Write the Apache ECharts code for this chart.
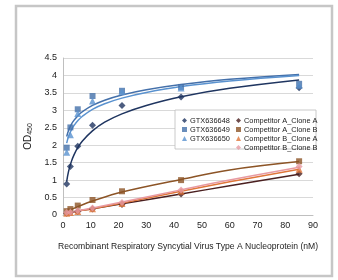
<!DOCTYPE html>
<html>
<head>
<meta charset="utf-8">
<script src="https://cdn.jsdelivr.net/npm/echarts@6/dist/echarts.min.js"></script>
<style>
  html, body { margin: 0; padding: 0; background: #fff; }
  #chart { width: 338px; height: 280px; }
</style>
</head>
<body>
<div id="chart"></div>
<script>
// concentrations (nM)
const conc = [1.33, 2.66, 5.31, 10.63, 21.25, 42.5, 85];

// measured OD450
const gtx648 = [0.89, 1.39, 1.97, 2.57, 3.14, 3.38, 3.65];
const gtx649 = [1.93, 2.51, 3.03, 3.41, 3.56, 3.67, 3.76];
const gtx650 = [1.8, 2.3, 2.91, 3.27, 3.54, 3.64, 3.72];
const compAA = [0.05, 0.07, 0.1, 0.17, 0.3, 0.6, 1.18];
const compAB = [0.11, 0.17, 0.27, 0.43, 0.68, 1.0, 1.54];
const compBA = [0.05, 0.07, 0.1, 0.18, 0.33, 0.68, 1.31];
const compBB = [0.07, 0.08, 0.12, 0.2, 0.36, 0.72, 1.39];

// trend lines
const trendX = [1.33, 2, 3, 4, 5.3, 7, 10.6, 15, 21.2, 30, 42.5, 60, 85];
const trend648 = [0.96, 1.25, 1.53, 1.73, 1.93, 2.12, 2.41, 2.66, 2.9, 3.14, 3.39, 3.63, 3.87];
const trend649 = [2.25, 2.42, 2.6, 2.72, 2.84, 2.96, 3.14, 3.29, 3.44, 3.59, 3.74, 3.89, 4.03];
const trend650 = [2.06, 2.25, 2.44, 2.57, 2.7, 2.83, 3.03, 3.19, 3.35, 3.51, 3.68, 3.84, 4.0];
const compX = [1.33, 2.66, 5.31, 10.63, 21.25, 42.5, 60, 85];
const trendAA = [0.04, 0.07, 0.11, 0.18, 0.32, 0.6, 0.84, 1.17];
const trendAB = [0.1, 0.15, 0.24, 0.4, 0.66, 1.02, 1.29, 1.53];
const trendBA = [0.05, 0.07, 0.11, 0.18, 0.34, 0.68, 0.95, 1.31];
const trendBB = [0.06, 0.08, 0.12, 0.2, 0.37, 0.72, 1.0, 1.37];

const names = ['GTX636648', 'GTX636649', 'GTX636650',
  'Competitor A_Clone A', 'Competitor A_Clone B', 'Competitor B_Clone A', 'Competitor B_Clone B'];
const colors = ['#1f3560', '#4470aa', '#5a92cf', '#4a1f1f', '#8c5426', '#e0763a', '#e79aa2'];
const symbols = ['diamond', 'rect', 'triangle', 'diamond', 'rect', 'triangle', 'diamond'];
const points = [gtx648, gtx649, gtx650, compAA, compAB, compBA, compBB];
const trends = [
  [trendX, trend648], [trendX, trend649], [trendX, trend650],
  [compX, trendAA], [compX, trendAB], [compX, trendBA], [compX, trendBB]
];

const pair = (xs, ys) => xs.map((x, i) => [x, ys[i]]);

let series = [];
trends.forEach((t, i) => {
  series.push({
    name: names[i] + ' fit',
    type: 'line',
    data: pair(t[0], t[1]),
    smooth: 0.4,
    showSymbol: false,
    silent: true,
    lineStyle: { color: colors[i], width: 1.5 },
    z: 2
  });
});
points.forEach((p, i) => {
  series.push({
    name: names[i],
    type: 'scatter',
    data: pair(conc, p),
    symbol: symbols[i],
    symbolSize: symbols[i] === 'rect' ? 6 : 7,
    itemStyle: { color: colors[i] },
    z: 3
  });
});

const legendText = { fontSize: 7.4, color: '#222', fontFamily: 'Liberation Sans', padding: [0, 0, 0, -2] };

let chart = echarts.init(document.getElementById('chart'), null, { renderer: 'canvas' });
chart.setOption({
  animation: false,
  textStyle: { fontFamily: 'Liberation Sans' },
  graphic: [
    {
      type: 'rect',
      shape: { x: 16, y: 6, width: 316, height: 270 },
      style: { fill: 'none', stroke: '#c6c6c6', lineWidth: 2.5 },
      silent: true
    },
    {
      type: 'rect',
      shape: { x: 175, y: 110, width: 141, height: 39 },
      style: { fill: '#fff', stroke: '#bdbdbd', lineWidth: 0.8 },
      z: 10,
      silent: true
    }
  ],
  legend: [
    {
      data: names.slice(0, 3),
      orient: 'vertical',
      left: 177, top: 112,
      itemWidth: 5, itemHeight: 5, itemGap: 2,
      textStyle: legendText,
      z: 11
    },
    {
      data: names.slice(3),
      orient: 'vertical',
      left: 231, top: 112,
      itemWidth: 5, itemHeight: 5, itemGap: 2,
      textStyle: legendText,
      z: 11
    }
  ],
  grid: { left: 63, right: 25, top: 58, bottom: 65 },
  xAxis: {
    type: 'value',
    min: 0, max: 90, interval: 10,
    name: 'Recombinant Respiratory Syncytial Virus Type A Nucleoprotein (nM)',
    nameLocation: 'middle',
    nameGap: 27,
    nameTextStyle: { fontSize: 8.6, color: '#222' },
    axisLine: { lineStyle: { color: '#bfbfbf' } },
    axisTick: { show: false },
    axisLabel: { fontSize: 9, color: '#222', margin: 6 },
    splitLine: { show: false }
  },
  yAxis: {
    type: 'value',
    min: 0, max: 4.5, interval: 0.5,
    name: '{a|OD}{b|450}',
    nameLocation: 'middle',
    nameGap: 28,
    nameTextStyle: {
      rich: {
        a: { fontSize: 10, color: '#222' },
        b: { fontSize: 7, color: '#222', verticalAlign: 'bottom', padding: [4, 0, 0, 0] }
      }
    },
    axisLine: { show: true, lineStyle: { color: '#bfbfbf' } },
    axisTick: { show: false },
    axisLabel: { fontSize: 9, color: '#222', margin: 6 },
    splitLine: { lineStyle: { color: '#d9d9d9' } }
  },
  series: series
});
</script>
</body>
</html>
